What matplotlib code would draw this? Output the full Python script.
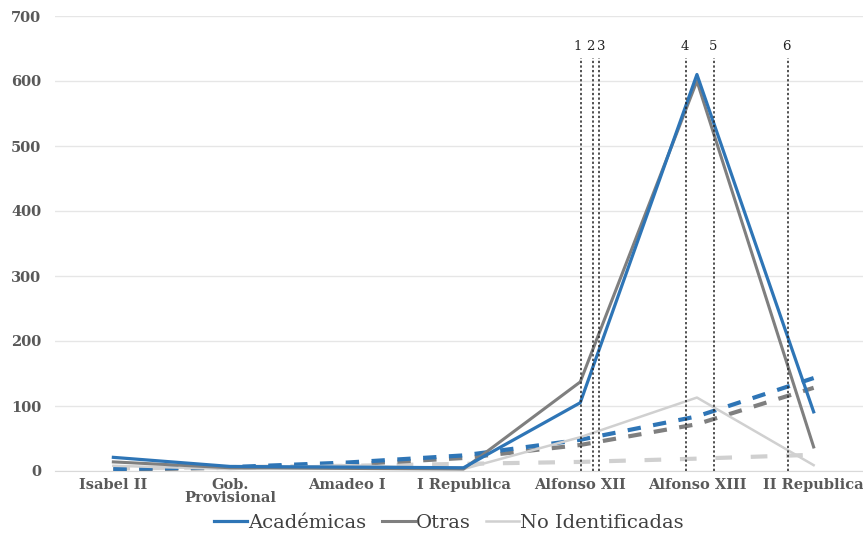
import matplotlib.pyplot as plt
import numpy as np
from matplotlib.transforms import offset_copy

# periods on the x axis
periods = ["Isabel II", "Gob.\nProvisional", "Amadeo I", "I Republica",
           "Alfonso XII", "Alfonso XIII", "II Republica"]

# observed counts
academicas = [21, 7, 6, 5, 105, 610, 91]
otras = [14, 5, 4, 3, 137, 600, 37]
no_identificadas = [8, 3, 9, 3, 52, 113, 9]

# trend lines (dashed)
academicas_trend = [3, 6, 13, 24, 48, 84, 143]
otras_trend = [2, 5, 10, 20, 40, 72, 128]
no_id_trend = [4, 6, 8, 11, 14, 19, 25]

# marked events (position in category units) and their labels
event_pos = [4.01, 4.11, 4.16, 4.91, 5.15, 5.78]
event_labels = ["1", "2", "3", "4", "5", "6"]
event_top = 635
label_nudge = [-3, -2, 2, -1, -1, -1]  # points, so "1 2 3" don't collide

BLUE = "#2E75B6"
GRAY = "#7F7F7F"
LIGHT = "#D0D0D0"

plt.rcParams["font.family"] = ["DejaVu Serif"]

fig = plt.figure(figsize=(8.63, 5.37), dpi=100)
ax = fig.add_axes([55 / 863, 1 - 471 / 537, 817 / 863, (471 - 16) / 537])

x = np.arange(len(periods))

ax.plot(x, no_id_trend, color=LIGHT, lw=3, ls=(0, (4, 4.5)), zorder=2)
ax.plot(x, otras_trend, color=GRAY, lw=3, ls=(0, (3.2, 3)), zorder=3)
ax.plot(x, academicas_trend, color=BLUE, lw=3, ls=(0, (3.2, 3)), zorder=4)

l3, = ax.plot(x, no_identificadas, color=LIGHT, lw=1.8, zorder=5, label="No Identificadas")
l2, = ax.plot(x, otras, color=GRAY, lw=2.2, zorder=6, label="Otras")
l1, = ax.plot(x, academicas, color=BLUE, lw=2.3, zorder=7, label="Académicas")

for pos, lab, dx in zip(event_pos, event_labels, label_nudge):
    ax.vlines(pos, 0, event_top, colors="#222222", lw=1.1, linestyles=(0, (1.5, 1.5)), zorder=8)
    tr = offset_copy(ax.transData, fig=fig, x=dx, y=0, units="points")
    ax.text(pos, event_top + 8, lab, ha="center", va="bottom", fontsize=9.5,
            color="#222222", transform=tr)

ax.set_xlim(-0.5, len(periods) - 0.5)
ax.set_ylim(0, 700)
ax.set_yticks(range(0, 701, 100))
ax.set_xticks(x, periods)
for lab in ax.get_xticklabels() + ax.get_yticklabels():
    lab.set_fontweight("bold")
    lab.set_fontsize(10.5)
    lab.set_color("#595959")
for lab in ax.get_xticklabels():
    lab.set_linespacing(0.9)
ax.tick_params(axis="both", length=0)
ax.tick_params(axis="x", pad=5)
ax.tick_params(axis="y", pad=10)
ax.grid(axis="y", color="#E6E6E6", lw=1)
ax.set_axisbelow(True)
for side in ["left", "right", "top"]:
    ax.spines[side].set_visible(False)
ax.spines["bottom"].set_color("#D9D9D9")

fig.legend(handles=[l1, l2, l3], loc="center", bbox_to_anchor=(449 / 863, 1 - 523 / 537),
           ncol=3, frameon=False, fontsize=14, handlelength=1.7, handletextpad=0.05,
           columnspacing=0.8, labelcolor="#404040")

fig.savefig("out.png", dpi=100)
